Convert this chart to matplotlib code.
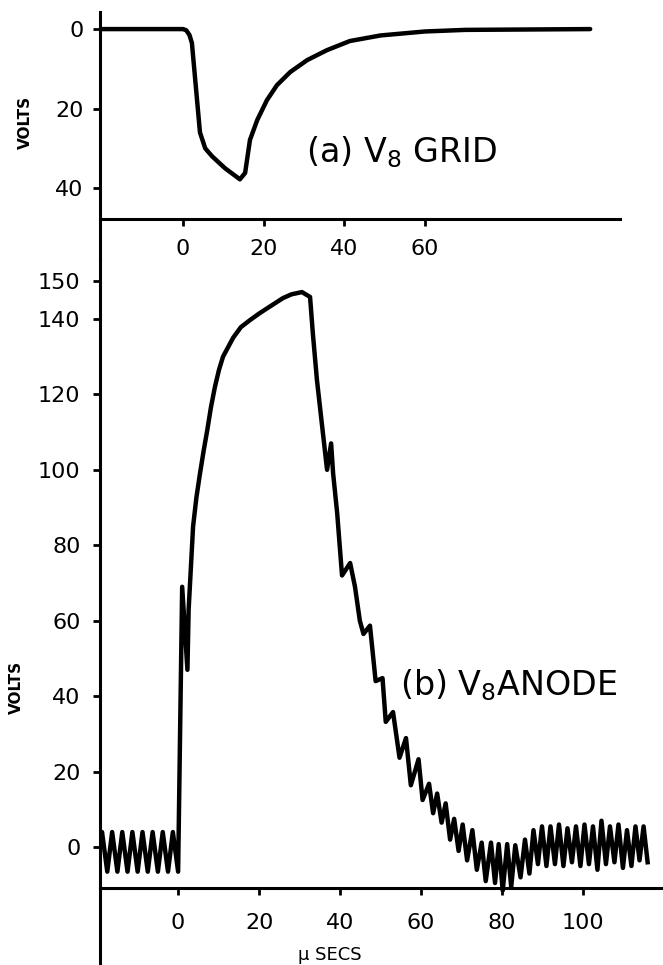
import matplotlib
matplotlib.use("Agg")
import matplotlib.pyplot as plt

# (a) V8 grid: time in microseconds, volts measured downward from zero
GRID_TIME = [-20.6, 0.0, 0.8, 1.6, 2.2, 4.2, 5.5, 7.2, 10.4, 14.1, 15.4, 16.6, 18.4, 20.8, 23.3,
             26.6, 30.8, 35.7, 41.4, 49.0, 60.0, 70.0, 101.0]
GRID_VOLTS = [0.0, 0.0, 0.3, 1.5, 3.5, 26.0, 30.0, 32.0, 35.0, 37.8, 36.2, 27.9, 22.9, 17.9, 14.1,
              10.8, 7.8, 5.3, 3.0, 1.6, 0.6, 0.2, 0.0]

# (b) V8 anode
ANODE_TIME = [-19.3, -18.8, -17.5, -16.3, -15.0, -13.8, -12.5, -11.3, -10.0, -8.8, -7.5, -6.3,
              -5.0, -3.8, -2.5, -1.3, 0.0, 1.0, 2.3, 2.6, 3.7, 4.5, 5.4, 6.3, 7.2, 8.1, 9.1, 10.1,
              11.1, 13.6, 15.5, 17.8, 20.0, 22.0, 25.9, 28.0, 30.6, 32.6, 33.3, 34.3, 35.6, 36.8,
              37.8, 38.3, 39.3, 40.5, 42.5, 43.7,
              44.9, 45.8, 47.4, 48.8, 50.5, 51.3, 53.1, 54.7, 56.3, 57.5, 59.4, 60.4, 62.0, 63.0,
              64.0, 65.1, 66.1, 67.2, 68.2, 69.3, 70.3, 71.4, 72.7, 73.8, 75.0, 76.0, 77.3, 78.3,
              79.2, 80.2, 81.3, 82.3, 83.3, 84.6, 85.7, 86.8, 87.8, 88.9, 89.9, 91.0, 92.0, 93.1,
              94.1, 95.2, 96.2, 97.3, 98.3, 99.4, 100.4, 101.5, 102.5, 103.6, 104.6, 105.7, 106.7,
              107.8, 108.8, 109.9, 110.9, 112.0, 113.0, 114.0, 115.0, 116.0]
ANODE_VOLTS = [1.0, 4.0, -6.5, 4.0, -6.5, 4.0, -6.5, 4.0, -6.5, 4.0, -6.5, 4.0,
               -6.5, 4.0, -6.5, 4.0, -6.5, 69.0, 47.0, 63.0, 85.0, 92.5, 99.0, 105.0, 110.5, 116.5,
               122.0, 126.5, 130.0, 135.0, 137.8, 139.7, 141.4, 142.8, 145.5, 146.5, 147.1, 145.8,
               136.0, 123.8, 111.4, 100.0, 107.0, 99.0, 88.5, 72.0, 75.3, 69.0,
               60.0, 56.5, 58.7, 44.0, 44.8, 33.2, 35.8, 23.7, 28.9, 16.4, 23.3, 12.5, 16.8, 9.0,
               14.2, 6.5, 11.6, 2.0, 7.5, -1.0, 6.0, -3.5, 4.5, -6.0, 1.2, -9.0, 1.2, -9.5,
               0.8, -11.5, 0.8, -10.5, 0.5, -8.0, 2.0, -7.0, 4.5, -4.5, 5.5, -5.0, 5.5, -4.5,
               6.0, -5.0, 5.0, -4.0, 5.5, -5.0, 6.0, -4.5, 5.5, -6.0, 7.0, -4.5, 5.5,
               -4.0, 6.0, -5.5, 4.5, -5.0, 5.5, -3.5, 5.5, -4.0]

GRID_YTICKS = [0, 20, 40]
GRID_XTICKS = [0, 20, 40, 60]
ANODE_YTICKS = [0, 20, 40, 60, 80, 100, 120, 140, 150]
ANODE_XTICKS = [0, 20, 40, 60, 80, 100]

W, H = 663, 965


def style_axis(axis, baseline, xpad, ypad):
    axis.spines["top"].set_visible(False)
    axis.spines["right"].set_visible(False)
    axis.spines["bottom"].set_position(("data", baseline))
    for side in ("left", "bottom"):
        axis.spines[side].set_linewidth(2.2)
    axis.tick_params(axis="both", direction="out", length=5, width=2.0, labelsize=16)
    axis.tick_params(axis="x", pad=xpad)
    axis.tick_params(axis="y", pad=ypad)


fig = plt.figure(figsize=(W / 100, H / 100), dpi=100)

ax_grid = fig.add_axes([100 / W, 1 - 260 / H, 520 / W, 248 / H])
ax_grid.plot(GRID_TIME, GRID_VOLTS, color="black", linewidth=3.2, solid_capstyle="round",
             solid_joinstyle="round")
ax_grid.set_xlim(-20.6, 108.4)
ax_grid.set_ylim(58.1, -4.3)
ax_grid.set_xticks(GRID_XTICKS)
ax_grid.set_yticks(GRID_YTICKS)
style_axis(ax_grid, 47.8, 9, 7)
ax_grid.text(30.5, 31.0, r"(a) V$_8$ GRID", fontsize=24, va="center", ha="left")

ax_anode = fig.add_axes([100 / W, 1 - 963 / H, 563 / W, 703 / H])
ax_anode.plot(ANODE_TIME, ANODE_VOLTS, color="black", linewidth=3.2, solid_joinstyle="round")
ax_anode.set_xlim(-19.3, 119.8)
ax_anode.set_ylim(-30.7, 155.6)
ax_anode.set_xticks(ANODE_XTICKS)
ax_anode.set_yticks(ANODE_YTICKS)
style_axis(ax_anode, -10.9, 13, 9)
ax_anode.text(54.7, 43.0, r"(b) V$_8$ANODE", fontsize=24, va="center", ha="left")

fig.text(25 / W, 1 - 122 / H, "VOLTS", rotation=90, fontsize=11, fontweight="bold",
         ha="center", va="center")
fig.text(16 / W, 1 - 687 / H, "VOLTS", rotation=90, fontsize=11, fontweight="bold",
         ha="center", va="center")
fig.text(330 / W, 1 - 955 / H, "\u00b5 SECS", fontsize=13, ha="center", va="center")

fig.savefig("out.png", dpi=100)
